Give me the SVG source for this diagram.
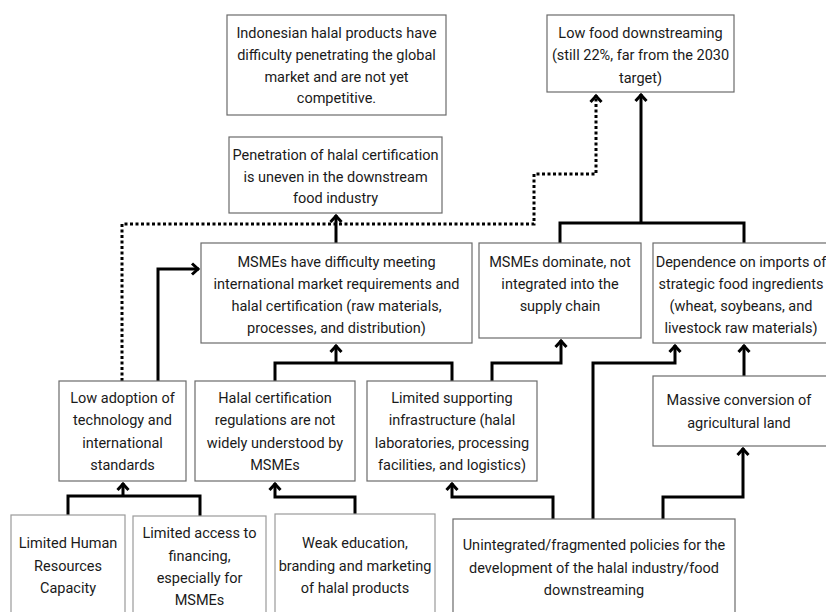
<svg xmlns="http://www.w3.org/2000/svg" width="826" height="612" viewBox="0 0 826 612">
<style>
.box{fill:#fff;stroke:#6b6b6b;stroke-width:1.2}
.lbox{fill:#fff;stroke:#9a9a9a;stroke-width:1.2}
.t{font-family:Roboto,"Liberation Sans",sans-serif;font-size:14.5px;fill:#1a1a1a;text-anchor:middle}
.c{fill:none;stroke:#000;stroke-width:3;stroke-linejoin:miter}
.d{fill:none;stroke:#000;stroke-width:3;stroke-dasharray:3 2.5}
</style>
<defs>
<marker id="ah" markerUnits="userSpaceOnUse" markerWidth="16" markerHeight="16" refX="1" refY="0" viewBox="-8 -8 16 16" orient="auto" overflow="visible">
<path d="M-6,-5.5 L0,0 L-6,5.5" fill="none" stroke="#000" stroke-width="3"/>
</marker>
</defs>
<rect width="826" height="612" fill="#fff"/>
<g id="connectors">
<path class="d" d="M122,381 V224 H534 V174 H596 V95" marker-end="url(#ah)"/>
<path class="c" d="M336,243 V215" marker-end="url(#ah)"/>
<path class="c" d="M560,243 V223 H744 V243"/>
<path class="c" d="M641,223 V94" marker-end="url(#ah)"/>
<path class="c" d="M158,381 V269 H199" marker-end="url(#ah)"/>
<path class="c" d="M275,381 V363 H452 V381"/>
<path class="c" d="M336,363 V345" marker-end="url(#ah)"/>
<path class="c" d="M492,381 V363 H561 V340" marker-end="url(#ah)"/>
<path class="c" d="M593,519 V363 H675 V345" marker-end="url(#ah)"/>
<path class="c" d="M744,376 V345" marker-end="url(#ah)"/>
<path class="c" d="M663,519 V497 H743 V448" marker-end="url(#ah)"/>
<path class="c" d="M553,519 V497 H452 V483" marker-end="url(#ah)"/>
<path class="c" d="M68,515 V496 H200 V516"/>
<path class="c" d="M123,496 V483" marker-end="url(#ah)"/>
<path class="c" d="M355,514 V497 H275 V483" marker-end="url(#ah)"/>
</g>
<g id="n1">
<rect class="box" x="227" y="15" width="219" height="100"/>
<text class="t" x="336.5" y="38">Indonesian halal products have</text>
<text class="t" x="336.5" y="60">difficulty penetrating the global</text>
<text class="t" x="336.5" y="82">market and are not yet</text>
<text class="t" x="336.5" y="103">competitive.</text>
</g>
<g id="n2">
<rect class="box" x="229" y="137" width="213" height="76"/>
<text class="t" x="335.5" y="160">Penetration of halal certification</text>
<text class="t" x="335.5" y="182">is uneven in the downstream</text>
<text class="t" x="335.5" y="203">food industry</text>
</g>
<g id="n3">
<rect class="box" x="547" y="15" width="187" height="77"/>
<text class="t" x="640.5" y="38">Low food downstreaming</text>
<text class="t" x="640.5" y="60">(still 22%, far from the 2030</text>
<text class="t" x="640.5" y="83">target)</text>
</g>
<g id="n4">
<rect class="box" x="201" y="243" width="271" height="100"/>
<text class="t" x="336.5" y="267">MSMEs have difficulty meeting</text>
<text class="t" x="336.5" y="289">international market requirements and</text>
<text class="t" x="336.5" y="311">halal certification (raw materials,</text>
<text class="t" x="336.5" y="333">processes, and distribution)</text>
</g>
<g id="n5">
<rect class="box" x="479" y="243" width="162" height="95"/>
<text class="t" x="560" y="267">MSMEs dominate, not</text>
<text class="t" x="560" y="289">integrated into the</text>
<text class="t" x="560" y="311">supply chain</text>
</g>
<g id="n6">
<rect class="box" x="653" y="243" width="180" height="100"/>
<text class="t" x="741" y="267">Dependence on imports of</text>
<text class="t" x="741" y="289">strategic food ingredients</text>
<text class="t" x="741" y="311">(wheat, soybeans, and</text>
<text class="t" x="741" y="333">livestock raw materials)</text>
</g>
<g id="n7">
<rect class="box" x="59" y="381" width="127" height="100"/>
<text class="t" x="122.5" y="403">Low adoption of</text>
<text class="t" x="122.5" y="425">technology and</text>
<text class="t" x="122.5" y="448">international</text>
<text class="t" x="122.5" y="470">standards</text>
</g>
<g id="n8">
<rect class="box" x="195" y="381" width="160" height="100"/>
<text class="t" x="275" y="403">Halal certification</text>
<text class="t" x="275" y="425">regulations are not</text>
<text class="t" x="275" y="448">widely understood by</text>
<text class="t" x="275" y="470">MSMEs</text>
</g>
<g id="n9">
<rect class="box" x="367" y="381" width="170" height="100"/>
<text class="t" x="452" y="403">Limited supporting</text>
<text class="t" x="452" y="425">infrastructure (halal</text>
<text class="t" x="452" y="448">laboratories, processing</text>
<text class="t" x="452" y="470">facilities, and logistics)</text>
</g>
<g id="n10">
<rect class="box" x="653" y="376" width="180" height="70"/>
<text class="t" x="739" y="405">Massive conversion of</text>
<text class="t" x="739" y="428">agricultural land</text>
</g>
<g id="n11">
<rect class="lbox" x="11" y="515" width="114" height="110"/>
<text class="t" x="68" y="548">Limited Human</text>
<text class="t" x="68" y="571">Resources</text>
<text class="t" x="68" y="593">Capacity</text>
</g>
<g id="n12">
<rect class="lbox" x="133" y="516" width="133" height="110"/>
<text class="t" x="199.5" y="538">Limited access to</text>
<text class="t" x="199.5" y="561">financing,</text>
<text class="t" x="199.5" y="583">especially for</text>
<text class="t" x="199.5" y="605">MSMEs</text>
</g>
<g id="n13">
<rect class="lbox" x="275" y="514" width="160" height="110"/>
<text class="t" x="355" y="548">Weak education,</text>
<text class="t" x="355" y="571">branding and marketing</text>
<text class="t" x="355" y="593">of halal products</text>
</g>
<g id="n14">
<rect class="box" x="453" y="519" width="282" height="110"/>
<text class="t" x="594" y="550">Unintegrated/fragmented policies for the</text>
<text class="t" x="594" y="573">development of the halal industry/food</text>
<text class="t" x="594" y="595">downstreaming</text>
</g>
</svg>
